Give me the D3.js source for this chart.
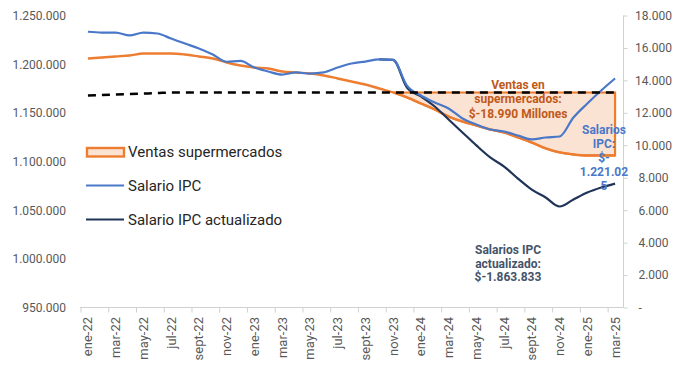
<!DOCTYPE html>
<html>
<head>
<meta charset="utf-8">
<script src="https://cdn.jsdelivr.net/npm/d3@7"></script>
<style>
  html, body { margin: 0; padding: 0; background: #ffffff; }
  svg { display: block; font-family: Roboto, "Noto Sans", sans-serif; }
</style>
</head>
<body>
<svg id="chart" width="678" height="381"></svg>
<script>
// ---------- DATA ----------
const months = [
  "ene-22","feb-22","mar-22","abr-22","may-22","jun-22","jul-22","ago-22","sept-22","oct-22","nov-22","dic-22",
  "ene-23","feb-23","mar-23","abr-23","may-23","jun-23","jul-23","ago-23","sept-23","oct-23","nov-23","dic-23",
  "ene-24","feb-24","mar-24","abr-24","may-24","jun-24","jul-24","ago-24","sept-24","oct-24","nov-24","dic-24",
  "ene-25","feb-25","mar-25"
];
// Ventas supermercados (left axis)
const ventas = [
  1205800,1206850,1207900,1208900,1210960,1210960,1211000,1209900,1207900,1205800,1201700,1198600,
  1196600,1195500,1192500,1191400,1190400,1188400,1185300,1182200,1179100,1175000,1171000,1165800,
  1159600,1153400,1146200,1141100,1137000,1132900,1129800,1124700,1119500,1113400,1109300,1107200,
  1106200,1106200,1106200
];
// Dashed reference level of sales (left axis)
const baseline = [
  1167800,1168300,1168800,1169300,1169800,1170300,1170900,1170900,1170900,1170900,1170900,1170900,
  1170900,1170900,1170900,1170900,1170900,1170900,1170900,1170900,1170900,1170900,1170900,1170900,
  1170900,1170900,1170900,1170900,1170900,1170900,1170900,1170900,1170900,1170900,1170900,1170900,
  1170900,1170900,1170900
];
// Salario IPC (right axis)
const salarioIPC = [
  17000,16950,16950,16770,16950,16890,16580,16270,15970,15600,15150,15200,
  14790,14550,14360,14490,14420,14490,14790,15040,15160,15290,15260,13680,
  13070,12640,12270,11650,11280,10970,10850,10600,10360,10480,10540,11710,
  12575,13380,14120
];
// Salario IPC actualizado (right axis)
const salarioAct = [
  null,null,null,null,null,null,null,null,null,null,null,null,
  null,null,null,null,null,null,null,null,null,15290,15260,13560,
  13010,12390,11590,10790,9990,9250,8690,7950,7270,6780,6225,6660,
  7090,7400,7640
];
const leftTicks = [950000,1000000,1050000,1100000,1150000,1200000,1250000];
const rightTicks = [0,2000,4000,6000,8000,10000,12000,14000,16000,18000];
const legendLabels = ["Ventas supermercados","Salario IPC","Salario IPC actualizado"];
const annVentas = ["Ventas en","supermercados:","$-18.990 Millones"];
const annIPC = ["Salarios","IPC:","$-","1.221.02","5"];
const annAct = ["Salarios IPC","actualizado:","$-1.863.833"];

// ---------- SCALES ----------
const svg = d3.select("#chart");
const n = months.length;
const x = d3.scaleBand().domain(months).range([81, 622]).padding(0);
const bw = x.bandwidth();
const xi = d3.scaleLinear().domain([0, n - 1]).range([x(months[0]) + bw / 2, x(months[n - 1]) + bw / 2]);
const yL = d3.scaleLinear().domain([950000, 1250000]).range([307.5, 15.5]);
const yR = d3.scaleLinear().domain([0, 18000]).range([307.5, 15.5]);

const fmt = v => d3.format(",")(v).replace(/,/g, ".");

const ORANGE = "#ed7d31", BLUE = "#4a78c8", NAVY = "#1f3458";
const AXIS_TXT = "#595959", AXIS_LINE = "#d0d0d0";

// ---------- AXES ----------
// Left axis labels (no line)
const gL = svg.append("g").attr("transform", "translate(66,0)")
  .call(d3.axisLeft(yL).tickValues(leftTicks).tickSize(0).tickPadding(0).tickFormat(fmt));
gL.select(".domain").remove();
gL.selectAll("text").attr("fill", AXIS_TXT).style("font-size", "12px").style("font-family", "Roboto");

// Right axis
const gR = svg.append("g").attr("transform", "translate(623.5,0)")
  .call(d3.axisRight(yR).tickValues(rightTicks).tickSize(4).tickFormat(d => d === 0 ? "-" : fmt(d)));
gR.select(".domain").attr("stroke", AXIS_LINE).attr("d", `M0,${yR(18000)}V${yR(0)}`);
gR.selectAll(".tick line").attr("stroke", AXIS_LINE);
gR.selectAll("text")
  .attr("fill", AXIS_TXT).style("font-size", "12px").style("font-family", "Roboto")
  .attr("text-anchor", d => d === 0 ? "start" : "middle")
  .attr("x", d => d === 0 ? 15 : 30);

// X axis
const xAxisY = 307.5;
const gX = svg.append("g").attr("transform", `translate(0,${xAxisY})`)
  .call(d3.axisBottom(x).tickValues(months.filter((m, i) => i % 2 === 0)).tickSize(0).tickPadding(0));
gX.select(".domain").attr("stroke", AXIS_LINE).attr("d", `M80,0H623.5`);
gX.selectAll(".tick text")
  .attr("fill", AXIS_TXT).style("font-size", "13px").style("font-family", "Roboto")
  .attr("transform", "rotate(-90)")
  .attr("text-anchor", "end")
  .attr("x", -9.5).attr("y", 0).attr("dy", "0.35em");
// tick marks at category boundaries
svg.append("g").selectAll("line")
  .data(months.filter((m, i) => i % 2 === 0))
  .join("line")
  .attr("x1", d => x(d)).attr("x2", d => x(d))
  .attr("y1", xAxisY).attr("y2", xAxisY + 5)
  .attr("stroke", AXIS_LINE);

// ---------- SHADED AREA ----------
let start = null;
for (let i = 1; i < n; i++) {
  if (ventas[i - 1] >= baseline[i - 1] && ventas[i] < baseline[i]) {
    const d0 = ventas[i - 1] - baseline[i - 1], d1 = ventas[i] - baseline[i];
    const t = d0 / (d0 - d1);
    start = { i: i - 1 + t, v: baseline[i - 1] + t * (baseline[i] - baseline[i - 1]) };
    start.k = i;
  }
}
const areaPts = [{ i: start.i, top: start.v, bot: start.v }];
for (let i = start.k; i < n; i++) areaPts.push({ i, top: baseline[i], bot: ventas[i] });
const areaGen = d3.area().x(d => xi(d.i)).y0(d => yL(d.top)).y1(d => yL(d.bot)).curve(d3.curveMonotoneX);
svg.append("path").datum(areaPts)
  .attr("d", areaGen)
  .attr("fill", "#fbe3d3").attr("stroke", ORANGE).attr("stroke-width", 2.2);

// ---------- LINES ----------
const lineL = d3.line().defined(d => d.v != null).x(d => xi(d.i)).y(d => yL(d.v)).curve(d3.curveMonotoneX);
const lineR = d3.line().defined(d => d.v != null).x(d => xi(d.i)).y(d => yR(d.v)).curve(d3.curveMonotoneX);
const toPts = arr => arr.map((v, i) => ({ i, v }));

svg.append("path").datum(toPts(ventas)).attr("d", lineL)
  .attr("fill", "none").attr("stroke", ORANGE).attr("stroke-width", 2.4);
svg.append("path").datum(toPts(salarioAct)).attr("d", lineR)
  .attr("fill", "none").attr("stroke", NAVY).attr("stroke-width", 2.2);
svg.append("path").datum(toPts(salarioIPC)).attr("d", lineR)
  .attr("fill", "none").attr("stroke", BLUE).attr("stroke-width", 2.2);
svg.append("path").datum(toPts(baseline)).attr("d", lineL)
  .attr("fill", "none").attr("stroke", "#000").attr("stroke-width", 2.5)
  .attr("stroke-dasharray", "8,6");

// ---------- LEGEND ----------
const lg = svg.append("g");
lg.append("rect").attr("x", 87).attr("y", 148).attr("width", 37).attr("height", 8.5)
  .attr("fill", "#fbe3d3").attr("stroke", ORANGE).attr("stroke-width", 2.4);
lg.append("line").attr("x1", 86).attr("x2", 124).attr("y1", 185.5).attr("y2", 185.5)
  .attr("stroke", BLUE).attr("stroke-width", 2.2);
lg.append("line").attr("x1", 86).attr("x2", 124).attr("y1", 219.5).attr("y2", 219.5)
  .attr("stroke", NAVY).attr("stroke-width", 2.2);
[152, 185.5, 219.5].forEach((yy, k) => {
  lg.append("text").attr("x", 128).attr("y", yy).attr("dy", "0.35em")
    .attr("fill", "#262626").style("font-size", "15px").text(legendLabels[k]);
});

// ---------- ANNOTATIONS ----------
function ann(lines, cx, y0, step, color) {
  const t = svg.append("text").attr("text-anchor", "middle")
    .attr("fill", color).style("font-size", "12px").style("font-weight", "bold");
  lines.forEach((s, k) => t.append("tspan").attr("x", cx).attr("y", y0 + k * step).attr("dy", "0.35em").text(s));
}
ann(annVentas, 518, 85, 14.2, "#c0591a");
ann(annIPC, 604, 130, 14, "#4a78c8");
ann(annAct, 508, 250, 13.6, "#44546a");
</script>
</body>
</html>
